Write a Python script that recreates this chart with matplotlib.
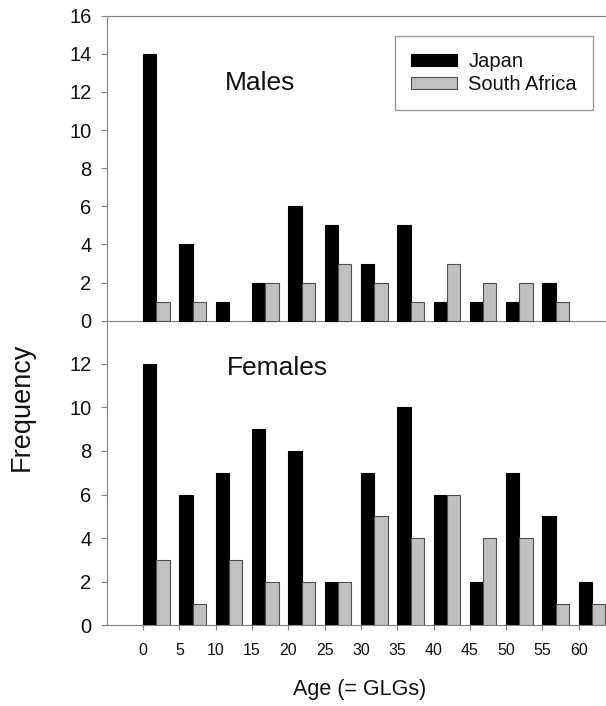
import numpy as np
import matplotlib
matplotlib.use("Agg")
from matplotlib import pyplot as plt

# Age classes (GLGs)
ages = np.array([0, 5, 10, 15, 20, 25, 30, 35, 40, 45, 50, 55, 60])

# frequencies
males_japan = np.array([14, 4, 1, 2, 6, 5, 3, 5, 1, 1, 1, 2, 0])
males_safrica = np.array([1, 1, 0, 2, 2, 3, 2, 1, 3, 2, 2, 1, 0])
females_japan = np.array([12, 6, 7, 9, 8, 2, 7, 10, 6, 2, 7, 5, 2])
females_safrica = np.array([3, 1, 3, 2, 2, 2, 5, 4, 6, 4, 4, 1, 1])

plt.rcParams['font.family'] = ['Liberation Sans', 'DejaVu Sans']
txt = '#111111'
spine_c = '#808080'
gray = '#c0c0c0'
w = 1.83

fig = plt.figure(figsize=(6.06, 7.06), dpi=100)
ax1 = fig.add_axes([0.1762, 0.5187, 0.8238, 0.4591])
ax2 = fig.add_axes([0.1762, 0.1143, 0.8238, 0.4044])


def draw_bars(ax, jp, sa):
    m = jp > 0
    ax.bar(ages[m], jp[m], width=w, align='edge', color='black',
           edgecolor='black', linewidth=0.8, label='Japan')
    m = sa > 0
    ax.bar(ages[m] + w, sa[m], width=w, align='edge', color=gray,
           edgecolor='#505050', linewidth=0.8, label='South Africa')


draw_bars(ax1, males_japan, males_safrica)
draw_bars(ax2, females_japan, females_safrica)

for ax in (ax1, ax2):
    ax.set_xlim(-5, 63.75)
    ax.spines['right'].set_visible(False)
    ax.spines['left'].set_color(spine_c)
    ax.spines['left'].set_linewidth(0.8)
    ax.tick_params(axis='y', direction='out', length=4.5, width=0.8,
                   color=spine_c, labelsize=14.5, labelcolor=txt, pad=6.5)

# top panel
ax1.set_ylim(-1, 16)
ax1.set_yticks(np.arange(0, 17, 2))
ax1.spines['bottom'].set_visible(False)
ax1.spines['top'].set_color(spine_c)
ax1.spines['top'].set_linewidth(0.8)
ax1.axhline(0, color=spine_c, lw=0.8, zorder=0.5)
ax1.set_xticks([])

# bottom panel
ax2.set_ylim(0, 13.1)
ax2.set_yticks(np.arange(0, 13, 2))
ax2.spines['top'].set_visible(False)
ax2.spines['bottom'].set_color(spine_c)
ax2.spines['bottom'].set_linewidth(0.8)
ax2.set_xticks(ages)
ax2.tick_params(axis='x', direction='out', length=3.6, width=0.8,
                color=spine_c, labelsize=11.5, labelcolor=txt, pad=9)

fig.text(260 / 606, 1 - 83 / 706, 'Males', fontsize=19, color=txt,
         ha='center', va='center')
fig.text(277.5 / 606, 1 - 368 / 706, 'Females', fontsize=19, color=txt,
         ha='center', va='center')
fig.text(22 / 606, 1 - 406.5 / 706, 'Frequency', fontsize=19.5, color=txt,
         rotation=90, ha='center', va='center')
fig.text(360 / 606, 1 - 689 / 706, 'Age (= GLGs)', fontsize=15.5, color=txt,
         ha='center', va='center')

h, l = ax1.get_legend_handles_labels()
leg = fig.legend(h, l, loc='upper left', bbox_to_anchor=(395 / 606, 1 - 36 / 706),
                 borderaxespad=0, fontsize=14.5, frameon=True, fancybox=False,
                 handlelength=2.29, handleheight=0.6, handletextpad=0.55,
                 labelspacing=0.2, borderpad=0.8)
leg.get_frame().set_edgecolor(spine_c)
leg.get_frame().set_linewidth(1.0)
for t in leg.get_texts():
    t.set_color(txt)

fig.savefig('out.png', dpi=100)
